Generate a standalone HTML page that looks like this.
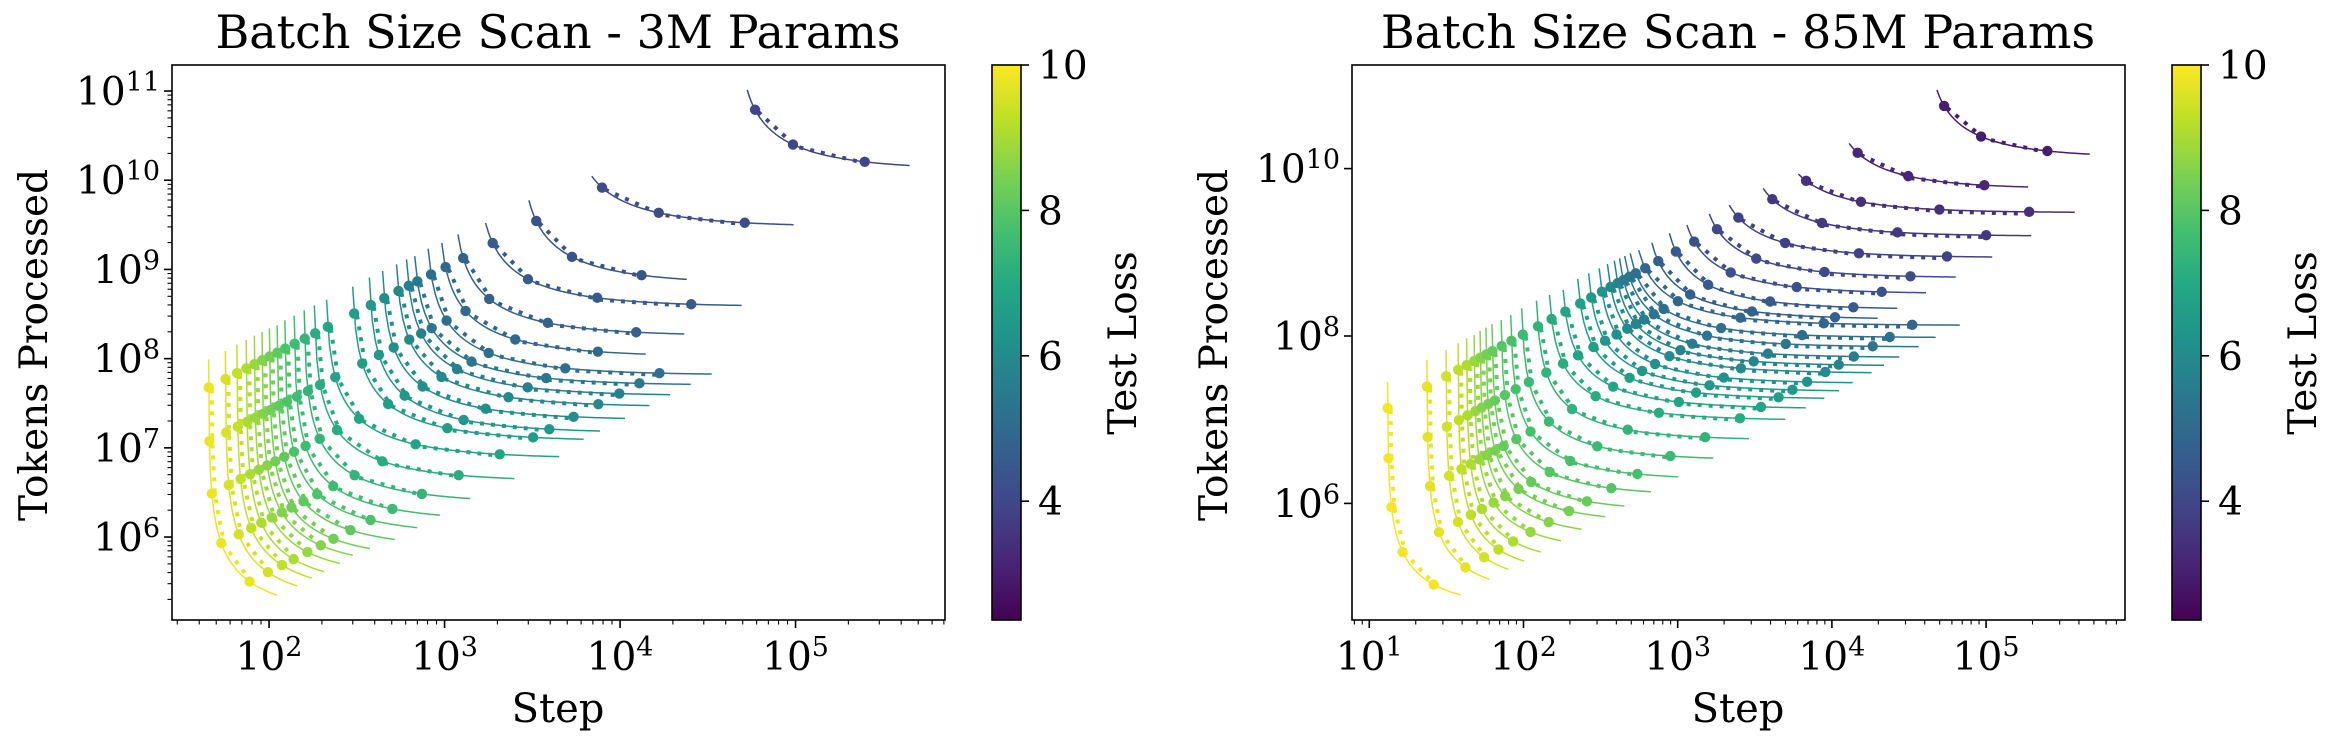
<!DOCTYPE html>
<html><head><meta charset="utf-8"><style>
html,body{margin:0;padding:0;background:#fff;}
svg{display:block;font-family:"DejaVu Serif","Liberation Serif",serif;}
</style></head><body>
<svg id="fig" width="2340" height="746" viewBox="0 0 2340 746" xmlns="http://www.w3.org/2000/svg">
<defs>
<linearGradient id="vir" x1="0" y1="1" x2="0" y2="0">
<stop offset="0" stop-color="#440154"/><stop offset="0.1" stop-color="#482475"/><stop offset="0.2" stop-color="#414487"/><stop offset="0.3" stop-color="#355f8d"/><stop offset="0.4" stop-color="#2a788e"/><stop offset="0.5" stop-color="#21918c"/><stop offset="0.6" stop-color="#22a884"/><stop offset="0.7" stop-color="#44bf70"/><stop offset="0.8" stop-color="#7ad151"/><stop offset="0.9" stop-color="#bddf26"/><stop offset="1" stop-color="#fde725"/>
</linearGradient>
<clipPath id="clipL"><rect x="172" y="65" width="773" height="555"/></clipPath>
<clipPath id="clipR"><rect x="1352" y="65" width="773" height="555"/></clipPath>
</defs>
</svg>
<script>
// ---- data ----
const batchSizes = [1.05e6, 2.6e5, 6.5e4, 1.6e4, 4.1e3];
const leftLoss = [9.8,9.55,9.3,9.05,8.8,8.6,8.35,8.1,7.85,7.6,7.35,7.1,6.85,6.6,6.4,6.15,5.9,5.65,5.4,5.15,4.95,4.75,4.55,4.35,4.15,3.95];
const leftSMin = [45.2,56.3,65.5,74.0,82.3,91.0,100.2,110.8,122.6,138.4,157.4,179.2,209.1,294,366,434,519,589,652,775,913,1105,1515,2675,5027,46300];
const leftEMin = [1.32e5,1.73e5,2.17e5,2.62e5,3.41e5,4.35e5,5.44e5,7.4e5,1.05e6,1.5e6,2.4e6,4.2e6,7.6e6,1.19e7,1.47e7,2.05e7,2.87e7,3.82e7,5.02e7,6.56e7,1.05e8,1.80e8,3.83e8,6.88e8,3.01e9,1.31e10];
const leftSEnd = [111,145,175,206,254,300,376,520,700,940,1400,2500,4500,6200,7690,10670,14690,19280,25290,33270,14000,23230,49300,23990,97500,446700];
const leftETop = [9.8e7,1.22e8,1.44e8,1.63e8,1.81e8,1.99e8,2.19e8,2.36e8,2.69e8,3.03e8,3.48e8,3.95e8,4.58e8,6.4e8,8.1e8,9.6e8,1.14e9,1.30e9,1.41e9,1.71e9,1.98e9,2.47e9,3.31e9,5.96e9,1.11e10,1.03e11];
const rightLoss = [9.9,9.7,9.5,9.25,9.05,8.8,8.6,8.4,8.2,7.95,7.75,7.5,7.3,7.1,6.85,6.65,6.45,6.2,6.0,5.8,5.55,5.35,5.15,4.9,4.7,4.5,4.25,4.05,3.85,3.6,3.4,3.2,3.0];
const rightSMin = [13.1,23.6,31.4,37.6,42.7,47.7,52.1,56.8,62.1,71.0,81.7,95.8,118.7,142.7,173.9,216.4,254.2,296.6,332.8,366.7,391.7,416,443.5,487.7,597,775,973,1325,1649,2620,3965,9231,40480];
const rightEMin = [5.36e4,7.53e4,9.88e4,1.28e5,1.76e5,2.60e5,3.84e5,5.77e5,8.03e5,1.23e6,1.91e6,3.28e6,5.69e6,9.81e6,1.35e7,1.76e7,2.17e7,2.71e7,3.58e7,4.39e7,5.53e7,7.37e7,9.55e7,1.34e8,1.58e8,2.08e8,3.21e8,4.96e8,8.66e8,1.56e9,2.98e9,5.73e9,1.36e10];
const rightSEnd = [39.2,60,79.7,100.7,129.4,175,238,339,451,671,1009,1702,2897,4989,6761,8933,11120,13650,18110,21780,27350,36560,47100,67450,19820,26550,40740,63530,109600,196300,375800,187100,469900];
const rightETop = [2.84e7,5.16e7,6.81e7,8.18e7,9.4e7,1.03e8,1.15e8,1.26e8,1.38e8,1.55e8,1.78e8,2.14e8,2.64e8,3.09e8,3.55e8,4.8e8,5.61e8,6.44e8,7.25e8,7.94e8,8.47e8,9.04e8,9.72e8,1.06e9,1.30e9,1.69e9,2.12e9,2.87e9,3.67e9,5.82e9,8.61e9,2.0e10,8.69e10];
const leftXTickExp = [2,3,4,5];
const leftYTickExp = [6,7,8,9,10,11];
const rightXTickExp = [1,2,3,4,5];
const rightYTickExp = [6,8,10];
const cbarTicks = [4,6,8,10];
const cbarMin = 2.366, cbarMax = 10.0;

// ---- helpers ----
const NS = "http://www.w3.org/2000/svg";
const svg = document.getElementById('fig');
function mk(tag, attrs, parent){
  const e = document.createElementNS(NS, tag);
  for (const k in attrs) e.setAttribute(k, attrs[k]);
  (parent||svg).appendChild(e);
  return e;
}
const VIR = ["#440154","#482475","#414487","#355f8d","#2a788e","#21918c","#22a884","#44bf70","#7ad151","#bddf26","#fde725"];
function hex(h){return [parseInt(h.substr(1,2),16),parseInt(h.substr(3,2),16),parseInt(h.substr(5,2),16)];}
function viridis(v){
  let t = (v-cbarMin)/(cbarMax-cbarMin); t=Math.max(0,Math.min(1,t));
  const p=t*10, i=Math.min(9,Math.floor(p)), f=p-i;
  const a=hex(VIR[i]), b=hex(VIR[i+1]);
  return "rgb("+a.map((c,k)=>Math.round(c+(b[k]-c)*f)).join(",")+")";
}

function makeAxes(cfg){
  const g = mk('g', {});
  
  
  const X = s => cfg.x0 + (Math.log10(s)-cfg.lx0)*cfg.kx;
  const Y = e => cfg.y0 - (Math.log10(e)-cfg.ly0)*cfg.ky;
  const curves = mk('g', {'clip-path':'url(#'+cfg.clip+')'}, g);
  
  
  const n = cfg.loss.length;
  for (let i=0;i<n;i++){
    const col = viridis(cfg.loss[i]);
    const sMin=cfg.sMin[i], eMin=cfg.eMin[i], sEnd=cfg.sEnd[i], eTop=cfg.eTop[i];
    const sTop = sMin*eTop/(eTop-eMin);
    let d="";
    const N=80;
    for (let k=0;k<=N;k++){
      const s = Math.pow(10, Math.log10(sTop)+(Math.log10(sEnd)-Math.log10(sTop))*k/N);
      const e = eMin*s/(s-sMin);
      d += (k?"L":"M")+X(s).toFixed(2)+","+Y(e).toFixed(2);
    }
    const fit = mk('path', {d:d, fill:'none', stroke:col, 'stroke-width':1.5}, curves);
    
    
    const pts=[];
    batchSizes.forEach(B=>{
      const s = sMin + eMin/B, e = B*s;
      if (s<=sEnd && e<=eTop*1.5) pts.push([s,e]);
    });
    if (pts.length>1){
      const dl = mk('path', {d: pts.map((p,k)=>(k?"L":"M")+(X(p[0])+3).toFixed(2)+","+(Y(p[1])+2).toFixed(2)).join(""), fill:'none', stroke:col, 'stroke-width':4, 'stroke-dasharray':'4 7'}, curves);
      
      
    }
    pts.forEach(p=>{
      const c = mk('circle', {cx:X(p[0]).toFixed(2), cy:Y(p[1]).toFixed(2), r:5.2, fill:col}, curves);
      
      
    });
  }
  const fr = mk('rect', {x:cfg.x0b, y:65, width:773, height:555, fill:'none', stroke:'#000', 'stroke-width':1.6}, g);
  
  
  const xMinDec = Math.floor(cfg.lx0b), xMaxDec = Math.ceil(cfg.lx1b);
  for (let dcd=xMinDec; dcd<=xMaxDec; dcd++){
    for (let m=1;m<10;m++){
      const lv = dcd+Math.log10(m);
      if (lv<cfg.lx0b||lv>cfg.lx1b) continue;
      const x = X(Math.pow(10,lv));
      const t = mk('line',{x1:x,x2:x,y1:620,y2:620+(m===1?8:4.5),stroke:'#000','stroke-width':m===1?1.6:1.1},g);
      
      
    }
  }
  cfg.xTicks.forEach(p=>{
    const x = X(Math.pow(10,p));
    const tx = mk('text',{x:x,y:670,'text-anchor':'middle','font-size':39,fill:'#000'},g);
    
    
    tx.appendChild(document.createTextNode('10'));
    const sp = mk('tspan',{dy:-14,'font-size':27},tx); sp.textContent = String(p);
  });
  const yMinDec = Math.floor(cfg.ly0b), yMaxDec = Math.ceil(cfg.ly1b);
  for (let dcd=yMinDec; dcd<=yMaxDec; dcd++){
    for (let m=1;m<10;m++){
      if (!cfg.yMinor && m>1) continue;
      if (!cfg.yMinor && cfg.yTicks.indexOf(dcd)<0) continue;
      const lv = dcd+Math.log10(m);
      if (lv<cfg.ly0b||lv>cfg.ly1b) continue;
      const y = Y(Math.pow(10,lv));
      const t = mk('line',{x1:cfg.x0b,x2:cfg.x0b-(m===1?8:4.5),y1:y,y2:y,stroke:'#000','stroke-width':m===1?1.6:1.1},g);
      
      
    }
  }
  cfg.yTicks.forEach(p=>{
    const y = Y(Math.pow(10,p));
    const tx = mk('text',{x:cfg.x0b-12,y:y+14,'text-anchor':'end','font-size':39,fill:'#000'},g);
    
    
    tx.appendChild(document.createTextNode('10'));
    const sp = mk('tspan',{dy:-14,'font-size':27},tx); sp.textContent = String(p);
  });
  const xl = mk('text',{x:cfg.x0b+386,y:722,'text-anchor':'middle','font-size':40},g);
  
  
  xl.textContent='Step';
  const yl = mk('text',{x:0,y:0,'text-anchor':'middle','font-size':39,transform:'translate('+cfg.ylabX+',345) rotate(-90)'},g);
  
  
  yl.textContent='Tokens Processed';
  const tt = mk('text',{x:cfg.x0b+386,y:48,'text-anchor':'middle','font-size':46},g);
  
  
  tt.textContent=cfg.title;
  const cb = mk('g',{},g);
  
  
  mk('rect',{x:cfg.cbx,y:65,width:29,height:555,fill:'url(#vir)',stroke:'#000','stroke-width':1.6},cb);
  const CY = v => 65 + (cbarMax - v)*(555/(cbarMax-cbarMin));
  cbarTicks.forEach(v=>{
    const y=CY(v);
    const t=mk('line',{x1:cfg.cbx+29,x2:cfg.cbx+37,y1:y,y2:y,stroke:'#000','stroke-width':1.6},cb);
    
    
    const tx=mk('text',{x:cfg.cbx+46,y:y+14,'font-size':39},cb);
    
    
    tx.textContent=String(v);
  });
  const cl = mk('text',{x:0,y:0,'text-anchor':'middle','font-size':39,transform:'translate('+(cfg.cbx+144)+',343) rotate(-90)'},cb);
  
  
  cl.textContent='Test Loss';
}

makeAxes({name:'left-chart-3m', title:'Batch Size Scan - 3M Params', clip:'clipL',
  x0:172, lx0:1.447, kx:175.5, y0:620, ly0:5.07, ky:89.2,
  x0b:172, lx0b:1.447, lx1b:5.852, ly0b:5.07, ly1b:11.288, yMinor:true,
  xTicks:leftXTickExp, yTicks:leftYTickExp, ylabX:47, cbx:992,
  loss:leftLoss, sMin:leftSMin, eMin:leftEMin, sEnd:leftSEnd, eTop:leftETop});
makeAxes({name:'right-chart-85m', title:'Batch Size Scan - 85M Params', clip:'clipR',
  x0:1369.3, lx0:1.0, kx:154.2, y0:336, ly0:8.0, ky:83.7,
  x0b:1352, lx0b:0.89, lx1b:5.901, ly0b:4.607, ly1b:11.238, yMinor:false,
  xTicks:rightXTickExp, yTicks:rightYTickExp, ylabX:1227, cbx:2172,
  loss:rightLoss, sMin:rightSMin, eMin:rightEMin, sEnd:rightSEnd, eTop:rightETop});
</script>
</body></html>
